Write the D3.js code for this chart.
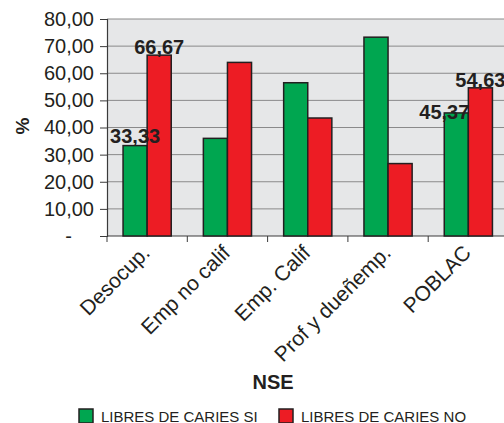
<!DOCTYPE html>
<html>
<head>
<meta charset="utf-8">
<script src="https://cdn.jsdelivr.net/npm/d3@7"></script>
<style>
  body { margin: 0; background: #fff; }
  svg { font-family: "Liberation Sans", Arial, sans-serif; display: block; }
</style>
</head>
<body>
<div id="chart"></div>
<script>
// data
const categories = ['Desocup.', 'Emp no calif', 'Emp. Calif', 'Prof y dueñemp.', 'POBLAC'];
const libresSi = [33.33, 36.0, 56.5, 73.3, 45.37];
const libresNo = [66.67, 64.0, 43.5, 26.7, 54.63];
const seriesNames = ['LIBRES DE CARIES SI', 'LIBRES DE CARIES NO'];
const labelledCategories = ['Desocup.', 'POBLAC'];
const yTicks = [0, 10, 20, 30, 40, 50, 60, 70, 80];

const width = 504, height = 423;
const margin = { top: 19, left: 107, bottom: 187 };
const plotW = 401.5;
const plotH = height - margin.top - margin.bottom;
const colors = ['#00a650', '#ed1c24'];
const ink = '#231f20';

const es = d3.formatLocale({ decimal: ',', thousands: '.', grouping: [3], currency: ['', ''] });
const fmt = es.format('.2f');

const svg = d3.select('#chart').append('svg')
  .attr('width', width)
  .attr('height', height);

const g = svg.append('g')
  .attr('transform', `translate(${margin.left},${margin.top})`);

// scales
const x = d3.scaleBand()
  .domain(categories)
  .range([0, plotW])
  .paddingInner(0.4)
  .paddingOuter(0.2);

const xs = d3.scaleBand()
  .domain([0, 1])
  .range([0, x.bandwidth()]);

const y = d3.scaleLinear()
  .domain([0, 80])
  .range([plotH, 0]);

// plot background
g.append('rect')
  .attr('width', plotW)
  .attr('height', plotH)
  .attr('fill', '#e6e7e8');

// grid lines
g.append('g')
  .selectAll('line')
  .data(yTicks.filter(d => d > 0))
  .join('line')
  .attr('x1', 0)
  .attr('x2', plotW)
  .attr('y1', d => y(d))
  .attr('y2', d => y(d))
  .attr('stroke', '#8a8a8a')
  .attr('stroke-width', 1);

// y axis
const yAxis = g.append('g')
  .call(d3.axisLeft(y)
    .tickValues(yTicks)
    .tickSize(7)
    .tickPadding(6)
    .tickFormat(d => d === 0 ? '-' : fmt(d)));
yAxis.select('.domain').attr('stroke', '#3a3a3a').attr('stroke-width', 1.2);
yAxis.selectAll('.tick line').attr('stroke', '#3a3a3a');
yAxis.selectAll('.tick text')
  .attr('fill', ink)
  .style('font-size', '20px')
  .attr('dx', d => d === 0 ? -22 : 0);

// x axis line + ticks at category boundaries
g.append('line')
  .attr('x1', 0).attr('x2', plotW)
  .attr('y1', plotH).attr('y2', plotH)
  .attr('stroke', '#3a3a3a')
  .attr('stroke-width', 1.2);

g.append('g')
  .selectAll('line')
  .data(categories)
  .join('line')
  .attr('x1', (d, i) => i * x.step())
  .attr('x2', (d, i) => i * x.step())
  .attr('y1', plotH)
  .attr('y2', plotH + 6)
  .attr('stroke', '#3a3a3a');

// x labels, rotated
g.append('g')
  .selectAll('text')
  .data(categories)
  .join('text')
  .attr('transform', d => `translate(${x(d) + x.bandwidth() / 2 + 4},${plotH + 18}) rotate(-45)`)
  .attr('text-anchor', 'end')
  .attr('fill', ink)
  .style('font-size', '21px')
  .text(d => d);

// bars
const rows = categories.map((c, i) => ({ cat: c, vals: [libresSi[i], libresNo[i]] }));

const groups = g.append('g')
  .selectAll('g')
  .data(rows)
  .join('g')
  .attr('transform', d => `translate(${x(d.cat)},0)`);

groups.selectAll('rect')
  .data(d => d.vals.map((v, k) => ({ cat: d.cat, k, v })))
  .join('rect')
  .attr('x', d => xs(d.k))
  .attr('y', d => y(d.v))
  .attr('width', xs.bandwidth())
  .attr('height', d => plotH - y(d.v))
  .attr('fill', d => colors[d.k])
  .attr('stroke', ink)
  .attr('stroke-width', 1.5);

// value labels (only where the original shows them)
groups.filter(d => labelledCategories.includes(d.cat))
  .selectAll('text')
  .data(d => d.vals.map((v, k) => ({ cat: d.cat, k, v })))
  .join('text')
  .attr('x', d => xs(d.k) + xs.bandwidth() / 2)
  .attr('y', d => y(d.v) - 1)
  .attr('dx', d => (d.cat === 'POBLAC' && d.k === 0) ? -12 : 0)
  .attr('dy', d => (d.cat === 'POBLAC' && d.k === 0) ? 7 : (d.k === 0 ? -2 : 0))
  .attr('text-anchor', 'middle')
  .attr('fill', ink)
  .style('font-size', '20px')
  .style('font-weight', 'bold')
  .text(d => fmt(d.v));

// axis titles
svg.append('text')
  .attr('transform', 'translate(29,126) rotate(-90)')
  .attr('text-anchor', 'middle')
  .attr('fill', ink)
  .style('font-size', '19px')
  .style('font-weight', 'bold')
  .text('%');

svg.append('text')
  .attr('x', 273)
  .attr('y', 389)
  .attr('text-anchor', 'middle')
  .attr('fill', ink)
  .style('font-size', '20px')
  .style('font-weight', 'bold')
  .text('NSE');

// legend
const legendX = [79, 279];
const legend = svg.append('g')
  .selectAll('g')
  .data(seriesNames)
  .join('g')
  .attr('transform', (d, i) => `translate(${legendX[i]},409)`);

legend.append('rect')
  .attr('width', 14)
  .attr('height', 14)
  .attr('fill', (d, i) => colors[i])
  .attr('stroke', ink)
  .attr('stroke-width', 1.5);

legend.append('text')
  .attr('x', 22)
  .attr('y', 12.5)
  .attr('fill', ink)
  .style('font-size', '15px')
  .text(d => d);
</script>
</body>
</html>
